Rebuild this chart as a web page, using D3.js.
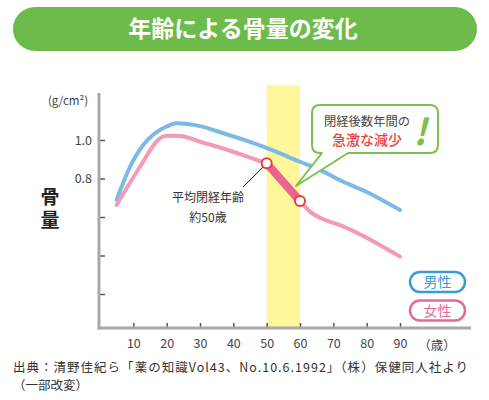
<!DOCTYPE html>
<html><head><meta charset="utf-8">
<script src="https://cdn.jsdelivr.net/npm/d3@7"></script>
<style>
html,body{margin:0;padding:0;background:#fff;}
svg text{font-family:"Noto Sans CJK JP","Noto Sans",sans-serif;}
</style></head>
<body>
<svg id="c" width="489" height="400"></svg>
<script>
const title = "年齢による骨量の変化";
const maleAges   = [5, 9, 13, 16.5, 20, 23, 30, 37, 45, 52, 60, 65, 73, 80, 90];
const maleValues = [0.69, 0.86, 0.975, 1.035, 1.07, 1.087, 1.072, 1.035, 0.99, 0.945, 0.887, 0.853, 0.783, 0.73, 0.636];
const femaleAges   = [5, 12, 18, 20, 24, 30, 40, 47, 50, 60, 63, 67, 72, 90];
const femaleValues = [0.662, 0.861, 1.009, 1.022, 1.021, 0.991, 0.939, 0.896, 0.879, 0.683, 0.628, 0.588, 0.558, 0.394];
const menopauseBand = [50, 60];
const xTicks = [10, 20, 30, 40, 50, 60, 70, 80, 90];
const yTicks = [0.2, 0.4, 0.6, 0.8, 1.0];
const yTickLabels = ["", "", "", "0.8", "1.0"];
const legendLabels = ["男性", "女性"];

const svg = d3.select("#c");
const x = d3.scaleLinear().domain([0, 90]).range([100, 400]);
const y = d3.scaleLinear().domain([0, 1]).range([332.5, 140]);
const xAxisY = 328, yAxisX = 99;

// Title banner
svg.append("rect").attr("x", 13).attr("y", 7).attr("width", 464).attr("height", 44)
  .attr("rx", 22).attr("fill", "#6dbb4b");
svg.append("text").attr("x", 243).attr("y", 29).attr("dy", "0.36em").attr("text-anchor", "middle")
  .attr("fill", "#fff").attr("font-size", 23).attr("font-weight", 700).text(title);

// Yellow band
svg.append("rect").attr("x", x(menopauseBand[0])).attr("y", 85)
  .attr("width", x(menopauseBand[1]) - x(menopauseBand[0])).attr("height", xAxisY - 85)
  .attr("fill", "#fff799");

// Axes
const gy = svg.append("g").attr("transform", `translate(${yAxisX},0)`)
  .call(d3.axisLeft(y).tickValues(yTicks).tickSizeInner(-6).tickSizeOuter(0).tickPadding(7)
    .tickFormat((d, i) => yTickLabels[i]));
gy.select(".domain").remove();
gy.selectAll(".tick line").attr("stroke", "#555").attr("stroke-width", 1.5);
gy.selectAll(".tick text").attr("font-size", 12.5).attr("fill", "#444").attr("font-family", "'Noto Sans CJK JP',sans-serif");

const gx = svg.append("g").attr("transform", `translate(0,${xAxisY})`)
  .call(d3.axisBottom(x).tickValues(xTicks).tickSizeInner(-5).tickSizeOuter(0).tickPadding(11));
gx.select(".domain").remove();
gx.selectAll(".tick line").attr("stroke", "#555").attr("stroke-width", 1.5);
gx.selectAll(".tick text").attr("font-size", 12.5).attr("fill", "#444").attr("font-family", "'Noto Sans CJK JP',sans-serif");

svg.append("line").attr("x1", yAxisX).attr("x2", yAxisX).attr("y1", 93).attr("y2", xAxisY + 1.5)
  .attr("stroke", "#a8a8a8").attr("stroke-width", 3);
svg.append("line").attr("x1", yAxisX - 1.5).attr("x2", 471).attr("y1", xAxisY).attr("y2", xAxisY)
  .attr("stroke", "#a8a8a8").attr("stroke-width", 3);

svg.append("text").attr("x", 437).attr("y", 345).attr("dy", "0.36em").attr("text-anchor", "middle")
  .attr("font-size", 12.5).attr("fill", "#444").text("（歳）");
svg.append("text").attr("x", 68).attr("y", 101).attr("dy", "0.36em").attr("text-anchor", "middle")
  .attr("font-size", 11.5).attr("fill", "#444").text("(g/cm²)");
svg.append("text").attr("x", 50).attr("y", 210.5).attr("text-anchor", "middle")
  .attr("writing-mode", "vertical-rl").attr("letter-spacing", 4)
  .attr("font-size", 19).attr("font-weight", 700).attr("fill", "#222").text("骨量");

// Lines
const line = d3.line().x(d => x(d[0])).y(d => y(d[1])).curve(d3.curveMonotoneX);
const male = maleAges.map((a, i) => [a, maleValues[i]]);
const female = femaleAges.map((a, i) => [a, femaleValues[i]]);
svg.append("path").attr("d", line(male)).attr("fill", "none").attr("stroke", "#7db9e5")
  .attr("stroke-width", 4).attr("stroke-linecap", "round").attr("stroke-linejoin", "round");
svg.append("path").attr("d", line(female)).attr("fill", "none").attr("stroke", "#f29ab6")
  .attr("stroke-width", 4).attr("stroke-linecap", "round").attr("stroke-linejoin", "round");

const decline = female.filter(d => d[0] >= menopauseBand[0] && d[0] <= menopauseBand[1]);
svg.append("path").attr("d", d3.line().x(d => x(d[0])).y(d => y(d[1]))(decline))
  .attr("fill", "none").attr("stroke", "#e9648f").attr("stroke-width", 8);

// Leader line
svg.append("line").attr("x1", 243).attr("y1", 187).attr("x2", x(decline[0][0])).attr("y2", y(decline[0][1]))
  .attr("stroke", "#222").attr("stroke-width", 1);

decline.forEach(d => {
  svg.append("circle").attr("cx", x(d[0])).attr("cy", y(d[1])).attr("r", 5)
    .attr("fill", "#fff").attr("stroke", "#e84040").attr("stroke-width", 2);
});

svg.append("text").attr("x", 208).attr("y", 198).attr("dy", "0.36em").attr("text-anchor", "middle")
  .attr("font-size", 12).attr("fill", "#333").text("平均閉経年齢");
svg.append("text").attr("x", 208).attr("y", 218).attr("dy", "0.36em").attr("text-anchor", "middle")
  .attr("font-size", 12).attr("fill", "#333").text("約50歳");

// Callout
const bx = 312, by = 105, bw = 126, bh = 48, r = 8;
const tailL = 322, tailR = 348, tip = [296, 186];
const p = `M${bx + r},${by} H${bx + bw - r} Q${bx + bw},${by} ${bx + bw},${by + r} V${by + bh - r} Q${bx + bw},${by + bh} ${bx + bw - r},${by + bh}
 H${tailR} L${tip[0]},${tip[1]} L${tailL},${by + bh} H${bx + r} Q${bx},${by + bh} ${bx},${by + bh - r} V${by + r} Q${bx},${by} ${bx + r},${by} Z`;
svg.append("path").attr("d", p).attr("fill", "#fff").attr("stroke", "#7cc04b").attr("stroke-width", 2)
  .attr("stroke-linejoin", "round");
svg.append("text").attr("x", 367).attr("y", 122).attr("dy", "0.36em").attr("text-anchor", "middle")
  .attr("font-size", 12.3).attr("fill", "#444").text("閉経後数年間の");
svg.append("text").attr("x", 367).attr("y", 140).attr("dy", "0.36em").attr("text-anchor", "middle")
  .attr("font-size", 14).attr("fill", "#e8433b").attr("font-weight", 500).text("急激な減少");
svg.append("text").attr("x", 420).attr("y", 145).attr("text-anchor", "middle")
  .attr("font-size", 36).attr("font-weight", 700).attr("font-style", "italic").attr("fill", "#7cc04b")
  .attr("font-family", "'DejaVu Sans',sans-serif").text("!");

// Legend
const legendColors = ["#3a9bd7", "#e86a94"];
legendLabels.forEach((l, i) => {
  const ly = 272 + i * 28.5;
  svg.append("rect").attr("x", 410).attr("y", ly).attr("width", 55).attr("height", 20).attr("rx", 10)
    .attr("fill", "#fff").attr("stroke", legendColors[i]).attr("stroke-width", 2.5);
  svg.append("text").attr("x", 437.5).attr("y", ly + 10).attr("dy", "0.36em").attr("text-anchor", "middle")
    .attr("font-size", 14).attr("fill", legendColors[i]).text(l);
});

// Source
svg.append("text").attr("x", 13).attr("y", 367).attr("dy", "0.36em")
  .attr("font-size", 12.5).attr("fill", "#333")
  .attr("textLength", 455).attr("lengthAdjust", "spacing")
  .text("出典：清野佳紀ら「薬の知識Vol43、No.10.6.1992」（株）保健同人社より");
svg.append("text").attr("x", 13).attr("y", 385.5).attr("dy", "0.36em")
  .attr("font-size", 12.5).attr("fill", "#333").text("（一部改変）");
</script>
</body></html>
